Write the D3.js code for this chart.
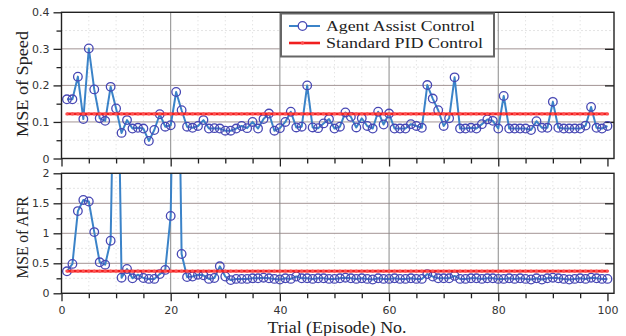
<!DOCTYPE html>
<html><head><meta charset="utf-8">
<script src="https://cdn.jsdelivr.net/npm/d3@7/dist/d3.min.js"></script>
<style>
html,body{margin:0;padding:0;background:#fff;}
svg{display:block;}
</style></head>
<body><svg id="c" width="626" height="336"></svg>
<script>
const episodes = d3.range(1, 101);
const speedAgent = [0.162,0.162,0.224,0.108,0.301,0.189,0.110,0.103,0.196,0.137,
0.070,0.105,0.082,0.084,0.082,0.048,0.078,0.121,0.087,0.091,
0.182,0.132,0.087,0.084,0.089,0.105,0.082,0.083,0.082,0.076,
0.076,0.082,0.089,0.083,0.100,0.082,0.108,0.123,0.076,0.083,
0.100,0.128,0.085,0.087,0.200,0.085,0.083,0.096,0.108,0.082,
0.087,0.126,0.114,0.085,0.110,0.089,0.082,0.128,0.093,0.123,
0.082,0.082,0.082,0.094,0.089,0.084,0.201,0.164,0.132,0.089,
0.110,0.222,0.082,0.082,0.084,0.082,0.094,0.107,0.103,0.082,
0.171,0.082,0.082,0.082,0.082,0.078,0.102,0.084,0.084,0.155,
0.084,0.082,0.082,0.082,0.082,0.090,0.141,0.084,0.082,0.089];
const speedPID = 0.122;
const afrAgent = [0.367,0.49,1.37,1.555,1.53,1.02,0.517,0.477,0.877,6.0,
0.26,0.405,0.25,0.31,0.255,0.24,0.24,0.32,0.39,1.29,
7.0,0.655,0.27,0.28,0.31,0.30,0.24,0.255,0.45,0.28,
0.22,0.24,0.24,0.24,0.25,0.25,0.26,0.25,0.24,0.23,
0.25,0.24,0.28,0.25,0.25,0.24,0.25,0.25,0.24,0.24,
0.25,0.26,0.25,0.24,0.25,0.24,0.23,0.25,0.24,0.24,
0.25,0.24,0.24,0.25,0.24,0.24,0.32,0.28,0.25,0.25,
0.25,0.29,0.24,0.24,0.25,0.25,0.24,0.25,0.25,0.24,
0.24,0.25,0.24,0.25,0.24,0.23,0.25,0.23,0.25,0.26,
0.25,0.24,0.23,0.24,0.25,0.24,0.26,0.25,0.24,0.24];
const afrPID = 0.37;
const xTickLabels = ["0","20","40","60","80","100"];
const speedTickLabels = ["0","0.1","0.2","0.3","0.4"];
const afrTickLabels = ["0","0.5","1","1.5","2"];
const seriesNames = ["Agent Assist Control","Standard PID Control"];

const svg = d3.select("#c");
const X0 = 61.5, X1 = 614;
const x = d3.scaleLinear().domain([0, 101.2]).range([X0, X1]);

const panels = [
  {id:"s", top:12.3, bottom:158.5, max:0.4, major:0.1, minor:0.05, agent:speedAgent, pid:speedPID, labels:speedTickLabels, ylabel:"MSE of Speed", showX:false, labLen:106, labY:84},
  {id:"a", top:173.3, bottom:293.3, max:2, major:0.5, minor:0.25, agent:afrAgent, pid:afrPID, labels:afrTickLabels, ylabel:"MSE of AFR", showX:true, labLen:82, labY:237.5}
];

const blueLine = "#3b83c8", blueMark = "#4848b4", red = "#f01e1e";
const tickFont = "'DejaVu Sans', sans-serif";
const labFont = "'Liberation Serif', serif";

panels.forEach(p => {
  const y = d3.scaleLinear().domain([0, p.max]).range([p.bottom, p.top]);
  const g = svg.append("g");
  g.append("defs").append("clipPath").attr("id","clip"+p.id)
    .append("rect").attr("x",X0).attr("y",p.top).attr("width",X1-X0).attr("height",p.bottom-p.top);

  const minorY = d3.range(p.minor, p.max, p.major);
  g.selectAll(".mgy").data(minorY).join("line")
    .attr("x1",X0).attr("x2",X1).attr("y1",d=>y(d)).attr("y2",d=>y(d))
    .attr("stroke","#c8c8c8").attr("stroke-width",1).attr("stroke-dasharray","1,3");
  const minorX = d3.range(5, 101, 5).filter(v => v % 20 !== 0);
  g.selectAll(".mgx").data(minorX).join("line")
    .attr("x1",d=>x(d)).attr("x2",d=>x(d)).attr("y1",p.top).attr("y2",p.bottom)
    .attr("stroke","#d8d8d8").attr("stroke-width",1).attr("stroke-dasharray","1,3");
  const majorY = d3.range(p.major, p.max - 1e-9, p.major);
  g.selectAll(".Mgy").data(majorY).join("line")
    .attr("x1",X0).attr("x2",X1).attr("y1",d=>y(d)).attr("y2",d=>y(d))
    .attr("stroke","#a39494").attr("stroke-width",1);
  g.selectAll(".Mgx").data([20,40,60,80]).join("line")
    .attr("x1",d=>x(d)).attr("x2",d=>x(d)).attr("y1",p.top).attr("y2",p.bottom)
    .attr("stroke","#8a8a8a").attr("stroke-width",1);

  const yAxis = d3.axisLeft(y).tickValues(d3.range(0, p.max + 1e-9, p.major))
    .tickFormat((d,i)=>p.labels[i]).tickSize(8).tickPadding(4);
  const ya = g.append("g").attr("transform",`translate(${X0},0)`).call(yAxis);
  ya.select(".domain").remove();
  ya.selectAll("text").attr("font-family",tickFont).attr("font-size",11).attr("fill","#333");
  ya.selectAll("line").attr("stroke","#222").attr("stroke-width",1.3);
  const yMinor = d3.axisLeft(y).tickValues(minorY).tickFormat("").tickSize(5);
  const ym = g.append("g").attr("transform",`translate(${X0},0)`).call(yMinor);
  ym.select(".domain").remove();
  ym.selectAll("line").attr("stroke","#222").attr("stroke-width",1.3);
  const yRight = d3.axisLeft(y).tickValues(majorY).tickFormat("").tickSize(9);
  const yr = g.append("g").attr("transform",`translate(${X1},0)`).call(yRight);
  yr.select(".domain").remove();
  yr.selectAll("line").attr("stroke","#222").attr("stroke-width",1.3);

  const xAxis = d3.axisBottom(x).tickValues([0,20,40,60,80,100])
    .tickFormat((d,i)=> p.showX ? xTickLabels[i] : "").tickSize(8).tickPadding(5);
  const xa = g.append("g").attr("transform",`translate(0,${p.bottom})`).call(xAxis);
  xa.select(".domain").remove();
  xa.selectAll("text").attr("font-family",tickFont).attr("font-size",11).attr("fill","#333");
  xa.selectAll("line").attr("stroke","#222").attr("stroke-width",1.3);
  const xMinor = d3.axisBottom(x).tickValues(minorX).tickFormat("").tickSize(5);
  const xm = g.append("g").attr("transform",`translate(0,${p.bottom})`).call(xMinor);
  xm.select(".domain").remove();
  xm.selectAll("line").attr("stroke","#222").attr("stroke-width",1.3);

  const plot = g.append("g").attr("clip-path",`url(#clip${p.id})`);
  const line = d3.line().x((d,i)=>x(episodes[i])).y(d=>y(d));
  plot.append("path").datum(p.agent).attr("d",line)
    .attr("fill","none").attr("stroke",blueLine).attr("stroke-width",2).attr("stroke-linejoin","round");
  plot.selectAll(".pt").data(p.agent).join("circle")
    .attr("cx",(d,i)=>x(episodes[i])).attr("cy",d=>y(d)).attr("r",4.3)
    .attr("fill","none").attr("stroke",blueMark).attr("stroke-width",1.3);
  const pidVals = episodes.map(()=>p.pid);
  plot.append("path").datum(pidVals).attr("d",line)
    .attr("fill","none").attr("stroke",red).attr("stroke-width",2.6);
  plot.selectAll(".pp").data(pidVals).join("circle")
    .attr("cx",(d,i)=>x(episodes[i])).attr("cy",d=>y(d)).attr("r",1.7)
    .attr("fill","#ff5050");

  g.append("rect").attr("x",X0).attr("y",p.top).attr("width",X1-X0).attr("height",p.bottom-p.top)
    .attr("fill","none").attr("stroke","#222").attr("stroke-width",1.4);

  svg.append("text").attr("transform",`translate(28,${p.labY}) rotate(-90)`)
    .attr("text-anchor","middle").attr("font-family",labFont).attr("font-size",16)
    .attr("fill","#222").attr("textLength",p.labLen).attr("lengthAdjust","spacingAndGlyphs")
    .text(p.ylabel);
});

svg.append("text").attr("x",337).attr("y",332.5).attr("text-anchor","middle")
  .attr("font-family",labFont).attr("font-size",16).attr("fill","#222")
  .attr("textLength",139).attr("lengthAdjust","spacingAndGlyphs")
  .text("Trial (Episode) No.");

const lg = svg.append("g");
lg.append("rect").attr("x",281).attr("y",13.5).attr("width",213).attr("height",43)
  .attr("fill","#fff").attr("stroke","#666").attr("stroke-width",2);
const ly = [26, 43];
const legLen = [149, 157];
lg.append("line").attr("x1",289).attr("x2",320).attr("y1",ly[0]).attr("y2",ly[0])
  .attr("stroke",blueLine).attr("stroke-width",2);
lg.append("circle").attr("cx",302.5).attr("cy",ly[0]).attr("r",4.3)
  .attr("fill","#fff").attr("stroke",blueMark).attr("stroke-width",1.3);
lg.append("line").attr("x1",289).attr("x2",320).attr("y1",ly[1]).attr("y2",ly[1])
  .attr("stroke",red).attr("stroke-width",2.6);
lg.append("circle").attr("cx",302.5).attr("cy",ly[1]).attr("r",1.7).attr("fill","#ff5050");
seriesNames.forEach((n,i)=>{
  lg.append("text").attr("x",326).attr("y",ly[i]+5).attr("font-family",labFont)
    .attr("font-size",14.5).attr("fill","#222")
    .attr("textLength",legLen[i]).attr("lengthAdjust","spacingAndGlyphs").text(n);
});
</script></body></html>
